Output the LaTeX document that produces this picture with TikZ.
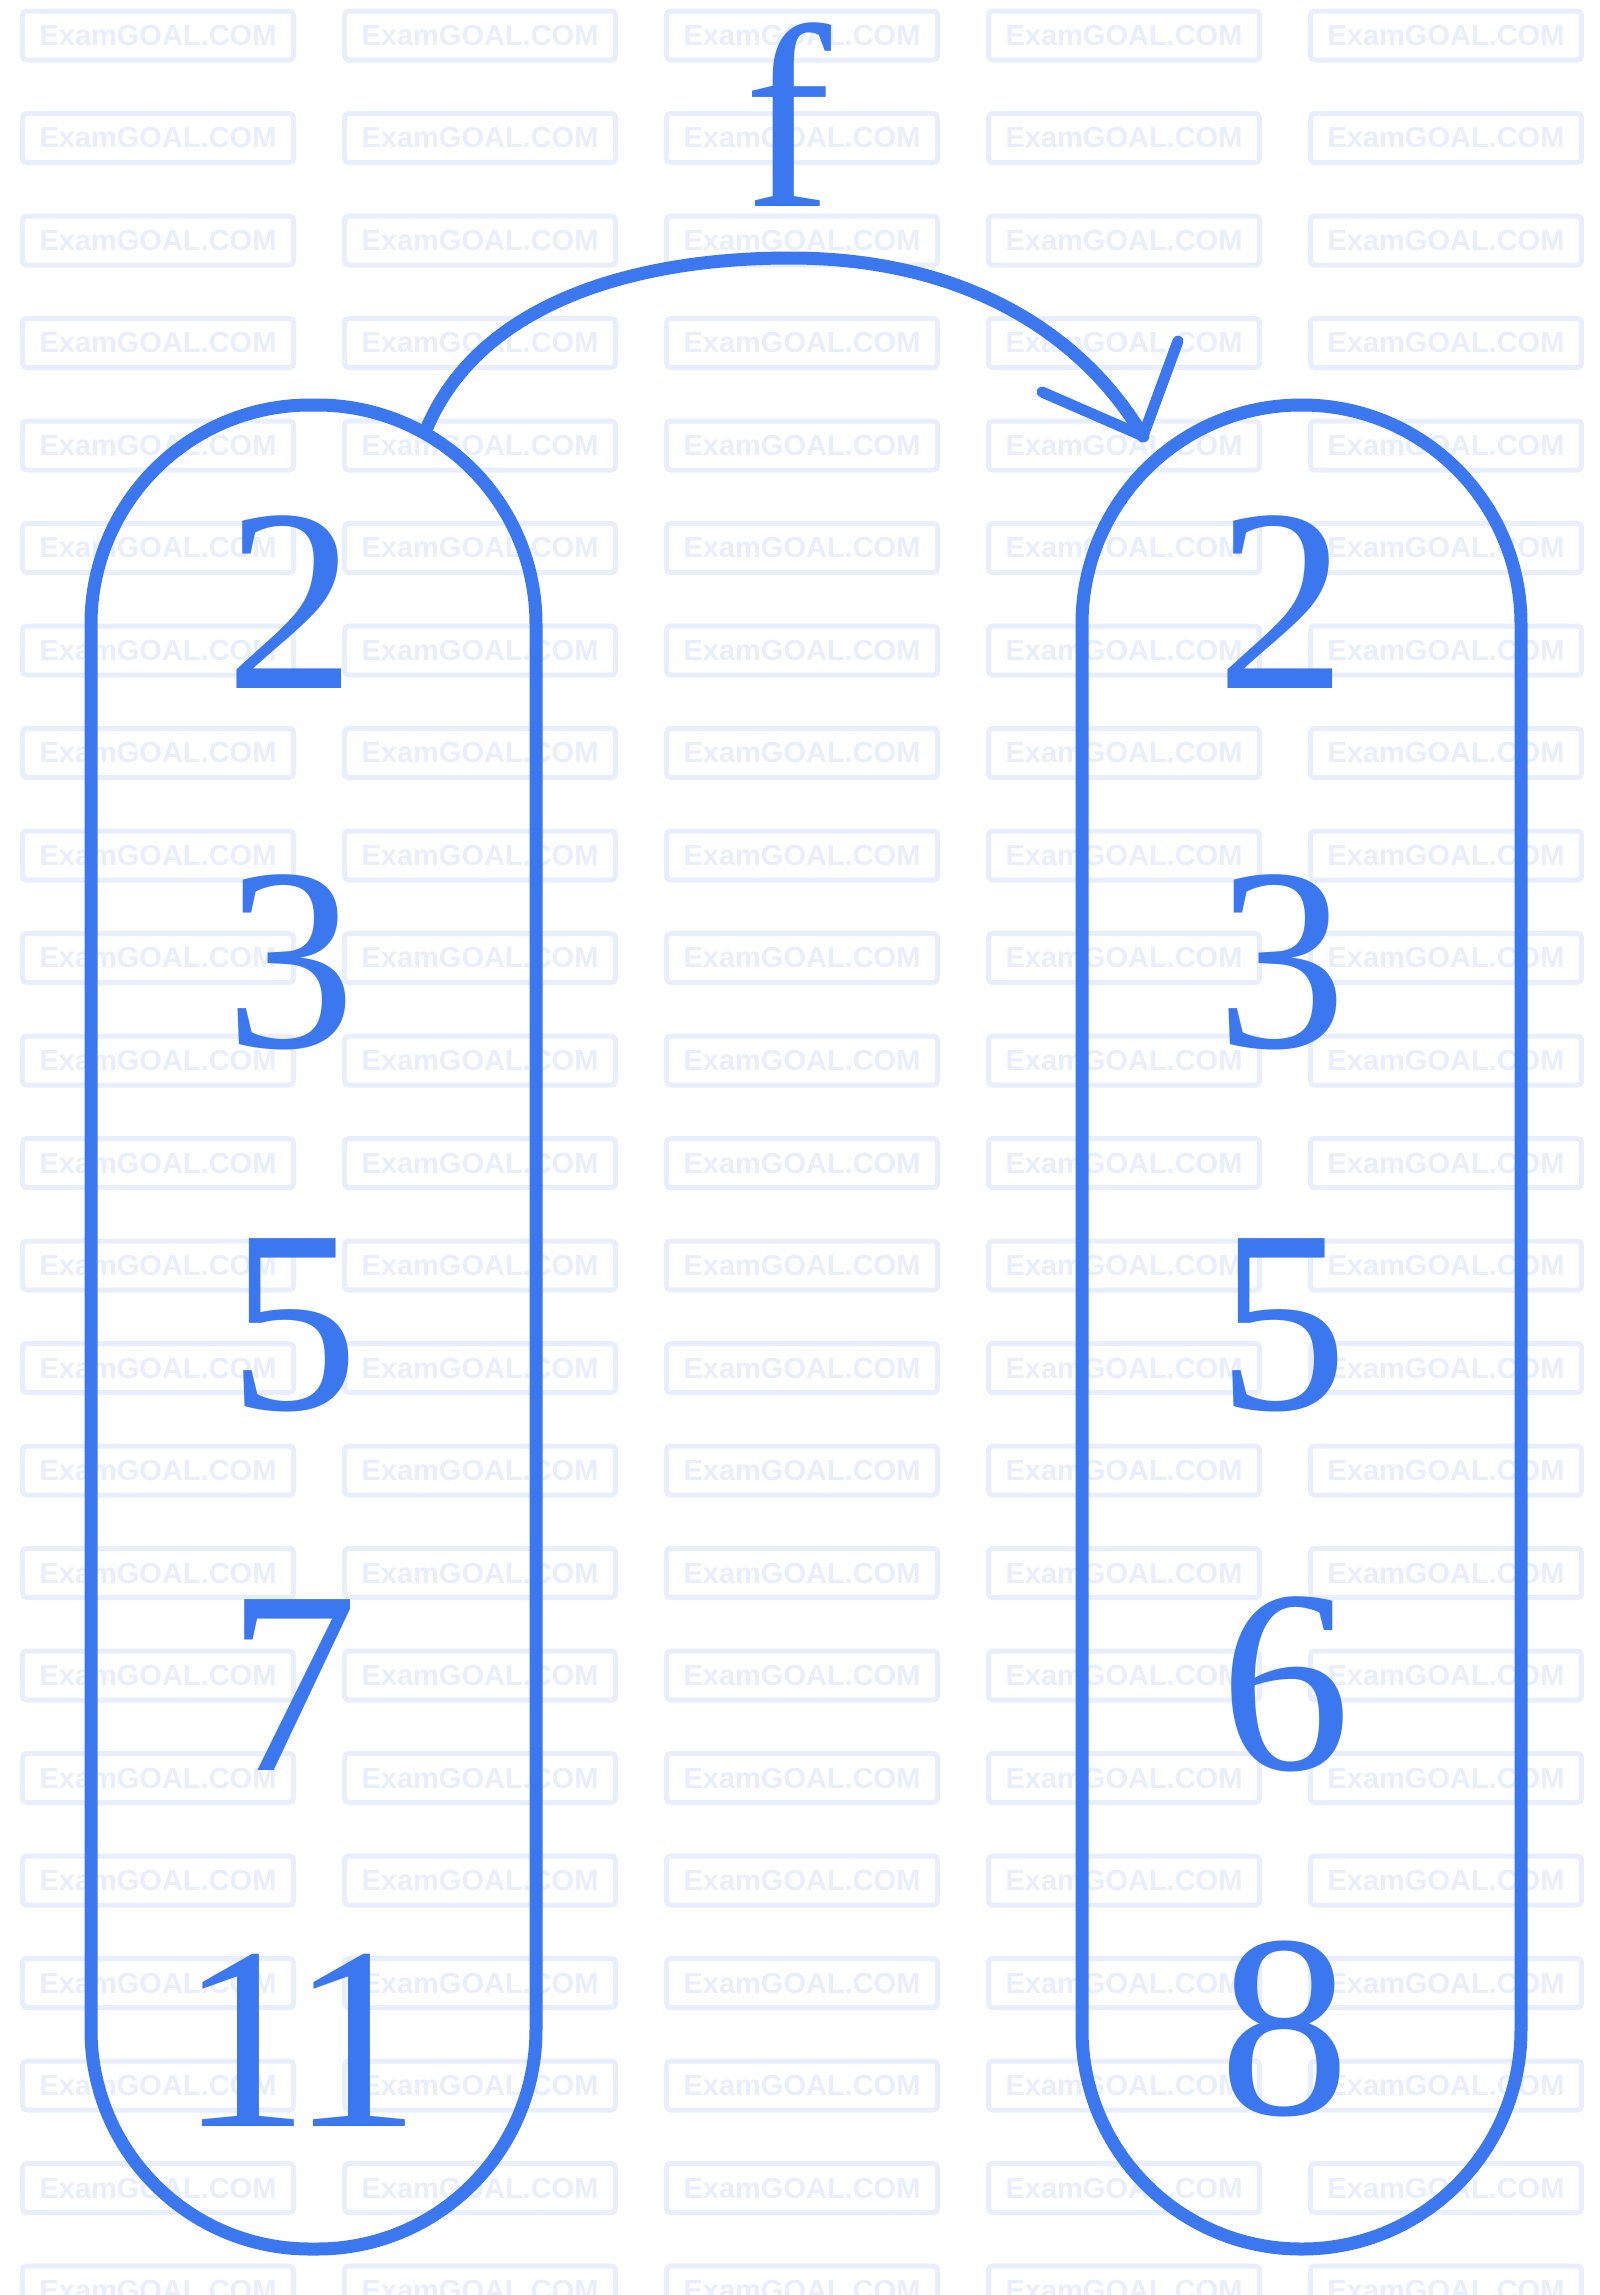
\documentclass[tikz,border=0pt]{standalone}
\usepackage{fontspec}
\setmainfont{Liberation Serif}
\newfontfamily\wmfont{Liberation Sans}
\usetikzlibrary{calc}
\definecolor{fblue}{HTML}{3B78F0}
\definecolor{wmblue}{HTML}{E8EEFC}
\begin{document}
\begin{tikzpicture}[x=1pt,y=-1pt,
  wmbox/.style={draw=wmblue,line width=5pt,rounded corners=4pt,minimum width=271pt,minimum height=49pt,inner sep=0pt,anchor=north west,text=wmblue,font=\wmfont\bfseries\fontsize{29}{29}\selectfont},
  oval/.style={draw=fblue,line width=13pt,rounded corners=219pt,inner sep=0pt},
  num/.style={text=fblue,inner sep=0pt,font=\fontsize{261}{261}\selectfont},
  mapline/.style={draw=fblue,line width=13pt,line cap=round,line join=round}]
\useasboundingbox (0,0) rectangle (1600,2295);
\clip (0,0) rectangle (1600,2295);
% watermark grid
\foreach \i in {0,...,4}{
  \foreach \j in {0,...,22}{
    \node[wmbox] (wm-\i-\j) at ({20+322*\i},{8.5+102.5*\j}) {ExamGOAL.COM};
  }
}
% sets
\node[oval,minimum width=445pt,minimum height=1844pt] (A) at (313.5,1327) {};
\node[oval,minimum width=439pt,minimum height=1844pt] (B) at (1301.5,1327) {};
% domain
\node[num] (a2) at (291,602) {2};
\node[num] (a3) at (291,962) {3};
\node[num] (a5) at (294,1325) {5};
\node[num] (a7) at (293,1685) {7};
\node[num] (a11) at (300,2040) {1\kern-20pt1};
% codomain
\node[num] (b2) at (1282,602) {2};
\node[num] (b3) at (1282,962) {3};
\node[num] (b5) at (1283,1325) {5};
\node[num] (b6) at (1286,1684) {6};
\node[num] (b8) at (1285,2029) {8};
% map label
\node[num] (f) at (788,115) {f};
% map arrow
\coordinate (s) at (426,430);
\coordinate (peak) at (790,258);
\coordinate (t) at (1143,436);
\draw[mapline] (s) .. controls (480,300) and (640,258) .. (peak) .. controls (960,258) and (1080,330) .. (t);
\draw[mapline,line width=11pt] ($(t)+(-101,-44)$) -- (t) -- ($(t)+(35,-95)$);
\end{tikzpicture}
\end{document}
